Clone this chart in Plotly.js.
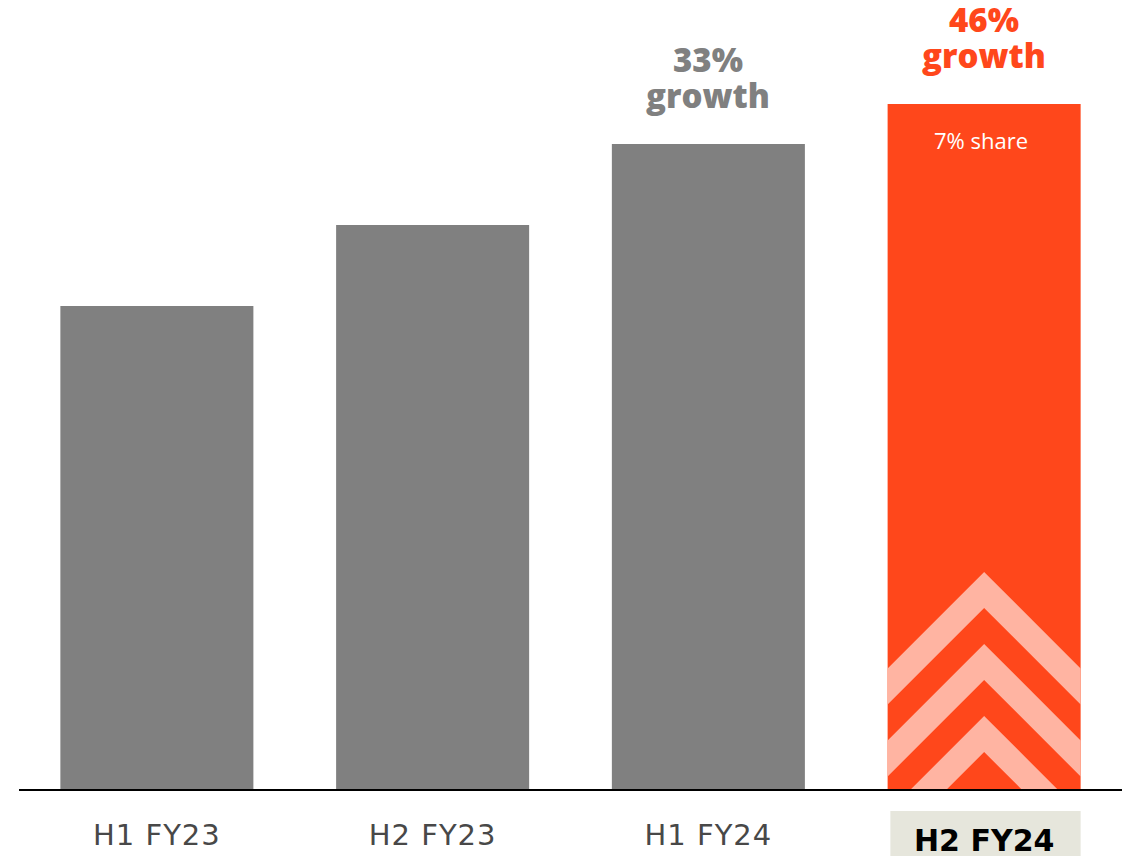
<!DOCTYPE html>
<html><head><meta charset="utf-8">
<script src="https://cdn.plot.ly/plotly-3.0.1.min.js"></script>
<style>html,body{margin:0;padding:0;background:#fff;} #chart{width:1127px;height:856px;} .xtick text{letter-spacing:1px;}</style>
</head><body><div id="chart"></div>
<script>
// ---- data ----
const categories = ['H1 FY23', 'H2 FY23', 'H1 FY24', 'H2 FY24'];
const values = [48.3, 56.4, 64.5, 68.5];
const growthPct = ['', '', '33%', '46%'];
const growthWord = ['', '', 'growth', 'growth'];
const shareLabels = ['', '', '', '7% share'];
const highlightIndex = 3;

// ---- style ----
const GRAY = '#808080', ORANGE = '#FF471B', LIGHT = '#FFB4A2', BOX = '#E6E6DC';
const W = 1127, H = 856, M = {l: 19, r: 5, t: 0, b: 67};
const plotW = W - M.l - M.r, plotH = H - M.t - M.b;
const xRange = [-0.5, categories.length - 0.5];
const yRange = [0, 78.9];
const pxPerX = plotW / (xRange[1] - xRange[0]);
const pxPerY = plotH / (yRange[1] - yRange[0]);
const barWidth = 0.7;
const xIdx = categories.map((c, i) => i);

// ---- chevron decoration inside highlighted bar ----
function clipPoly(poly, x0, x1, y0, y1) {
  const edges = [
    p => p[0] >= x0, p => p[0] <= x1, p => p[1] >= y0, p => p[1] <= y1
  ];
  const inter = [
    (a, b) => [x0, a[1] + (b[1] - a[1]) * (x0 - a[0]) / (b[0] - a[0])],
    (a, b) => [x1, a[1] + (b[1] - a[1]) * (x1 - a[0]) / (b[0] - a[0])],
    (a, b) => [a[0] + (b[0] - a[0]) * (y0 - a[1]) / (b[1] - a[1]), y0],
    (a, b) => [a[0] + (b[0] - a[0]) * (y1 - a[1]) / (b[1] - a[1]), y1]
  ];
  let out = poly;
  for (let e = 0; e < 4; e++) {
    const inp = out; out = [];
    for (let i = 0; i < inp.length; i++) {
      const cur = inp[i], prev = inp[(i + inp.length - 1) % inp.length];
      const cIn = edges[e](cur), pIn = edges[e](prev);
      if (cIn) { if (!pIn) out.push(inter[e](prev, cur)); out.push(cur); }
      else if (pIn) out.push(inter[e](prev, cur));
    }
  }
  return out;
}
const shapes = [];
(function () {
  const i = highlightIndex, c = xIdx[i];
  const bx0 = c - barWidth / 2, bx1 = c + barWidth / 2, top = values[i];
  const slope = pxPerX / pxPerY;            // 45 degree lines in pixel space
  const apexPx = [217, 145, 73], thickPx = 36;
  apexPx.forEach(ap => {
    const a = ap / pxPerY, t = thickPx / pxPerY, Wd = 1;
    const poly = [
      [c - Wd, a - slope * Wd], [c, a], [c + Wd, a - slope * Wd],
      [c + Wd, a - t - slope * Wd], [c, a - t], [c - Wd, a - t - slope * Wd]
    ];
    const cl = clipPoly(poly, bx0, bx1, 0, top);
    if (cl.length > 2) {
      shapes.push({
        type: 'path', xref: 'x', yref: 'y', layer: 'above',
        path: 'M' + cl.map(p => p[0] + ',' + p[1]).join('L') + 'Z',
        fillcolor: LIGHT, line: {width: 0}
      });
    }
  });
  // highlight box behind the category label
  shapes.push({
    type: 'rect', xref: 'x', yref: 'paper', layer: 'below',
    x0: bx0 + 0.01, x1: bx1, y0: -(856 - plotH) / plotH, y1: -(811 - plotH) / plotH,
    fillcolor: BOX, line: {width: 0}
  });
})();

// ---- annotations ----
const annotations = [];
xIdx.forEach((x, i) => {
  const col = i === highlightIndex ? ORANGE : GRAY;
  if (growthPct[i]) {
    annotations.push({x: x, y: values[i], xref: 'x', yref: 'y', text: growthPct[i],
      showarrow: false, yanchor: 'bottom', yshift: 60,
      font: {family: 'Open Sans', size: 33, color: col, weight: 800}});
    annotations.push({x: x, y: values[i], xref: 'x', yref: 'y', text: growthWord[i],
      showarrow: false, yanchor: 'bottom', yshift: 24,
      font: {family: 'Open Sans', size: 33, color: col, weight: 800}});
  }
  if (shareLabels[i]) {
    annotations.push({x: x - 0.01, y: values[i], xref: 'x', yref: 'y', text: shareLabels[i],
      showarrow: false, yanchor: 'top', yshift: -19,
      font: {family: 'Open Sans', size: 22, color: '#FFFFFF', weight: 400}});
  }
});
// highlighted category label
annotations.push({
  x: xIdx[highlightIndex], xref: 'x', y: 0, yref: 'paper',
  yanchor: 'top', yshift: -32, showarrow: false, text: '<b>' + categories[highlightIndex] + '</b>',
  font: {family: 'DejaVu Sans', size: 30, color: '#000000'}
});

const trace = {
  type: 'bar', x: xIdx, y: values, width: barWidth,
  marker: {color: xIdx.map(i => i === highlightIndex ? ORANGE : GRAY), line: {width: 0}},
  hoverinfo: 'skip'
};

const layout = {
  width: W, height: H, margin: M, showlegend: false,
  paper_bgcolor: '#FFFFFF', plot_bgcolor: '#FFFFFF',
  xaxis: {
    type: 'linear', range: xRange, fixedrange: true,
    tickvals: xIdx.filter(i => i !== highlightIndex),
    ticktext: categories.filter((c, i) => i !== highlightIndex),
    showgrid: false, zeroline: false, ticks: '',
    showline: true, linecolor: '#000000', linewidth: 2,
    ticklabelstandoff: 19,
    tickfont: {family: 'DejaVu Sans', size: 29, color: '#484848', weight: 400}
  },
  yaxis: {visible: false, range: yRange, fixedrange: true, showgrid: false, zeroline: false},
  shapes: shapes, annotations: annotations
};

Plotly.newPlot('chart', [trace], layout, {displayModeBar: false, staticPlot: true});
</script>
</body></html>
